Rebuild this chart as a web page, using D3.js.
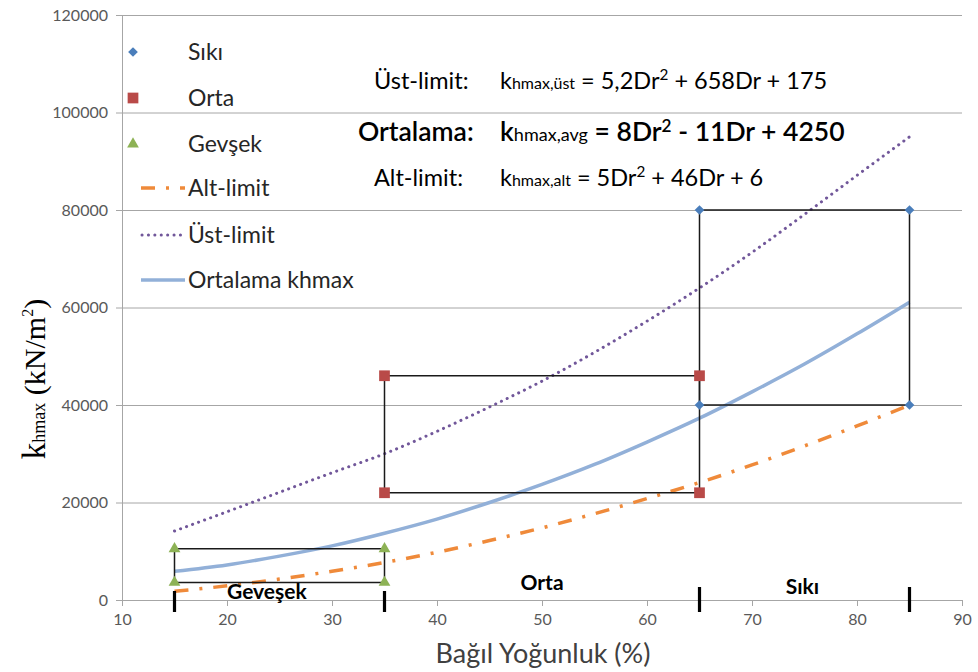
<!DOCTYPE html>
<html>
<head>
<meta charset="utf-8">
<script src="https://cdn.jsdelivr.net/npm/d3@7"></script>
<style>
  html, body { margin: 0; padding: 0; background: #fff; }
  svg { display: block; font-family: Lato, "Open Sans", sans-serif; }
</style>
</head>
<body>
<svg id="chart" width="978" height="672"></svg>
<script>
// ---------- data ----------
const xTicks = [10, 20, 30, 40, 50, 60, 70, 80, 90];
const yTicks = [0, 20000, 40000, 60000, 80000, 100000, 120000];

// marker series (corner points of each density box)
const sikiX = [65, 85, 85, 65];
const sikiY = [80000, 80000, 40000, 40000];
const ortaX = [35, 65, 65, 35];
const ortaY = [46000, 46000, 22000, 22000];
const gevsekX = [15, 35, 35, 15];
const gevsekY = [10500, 10500, 3600, 3600];

// curves
const curveDr = [15, 20, 25, 30, 35, 40, 45, 50, 55, 60, 65, 70, 75, 80, 85];
const ustLimit = [14150, 18100, 22100, 26100, 30000, 34600, 39600, 44900, 50800, 57200, 64000, 71300, 79100, 87100, 95000];
const altLimit = [1800, 2900, 4300, 5900, 7700, 9800, 12200, 14800, 17700, 20800, 24100, 27700, 31600, 35700, 40000];
const ortalama = [5900, 7200, 9000, 11100, 13700, 16600, 20000, 23700, 27800, 32400, 37300, 42700, 48400, 54600, 61100];

// class boundaries and labels
const classBounds = [15, 35, 65, 85];
const classLabels = ["Geveşek", "Orta", "Sıkı"];
const classLabelX = [23.8, 50, 74.8];
const classLabelDy = [-1, -10, -6];

const legendLabels = ["Sıkı", "Orta", "Gevşek", "Alt-limit", "Üst-limit", "Ortalama khmax"];

// ---------- layout ----------
const svg = d3.select("#chart");
const x = d3.scaleLinear().domain([10, 90]).range([122, 962]);
const y = d3.scaleLinear().domain([0, 120000]).range([600, 15]);

const C = {
  siki: "#4a7ebb", orta: "#b94a48", gevsek: "#8db255",
  alt: "#ef8a3a", ust: "#71579a", avg: "#92b0d8",
  grid: "#a6a6a6", tick: "#595959"
};

// gridlines
svg.append("g")
  .attr("transform", "translate(122,0)")
  .call(d3.axisLeft(y).tickValues(yTicks).tickSize(-840).tickFormat(""))
  .call(g => g.select(".domain").remove())
  .call(g => g.selectAll("line").attr("stroke", C.grid).attr("stroke-width", 1));

// y axis
svg.append("g")
  .attr("transform", "translate(122,0)")
  .call(d3.axisLeft(y).tickValues(yTicks).tickSize(6).tickPadding(8).tickFormat(d3.format("d")))
  .call(g => g.select(".domain").attr("stroke", C.grid))
  .call(g => g.selectAll("line").attr("stroke", C.grid))
  .call(g => g.selectAll("text").attr("fill", C.tick).style("font-size", "16px").style("font-family", "Lato, sans-serif"));

// x axis
svg.append("g")
  .attr("transform", "translate(0,600)")
  .call(d3.axisBottom(x).tickValues(xTicks).tickSize(6).tickPadding(8))
  .call(g => g.select(".domain").attr("stroke", C.grid))
  .call(g => g.selectAll("line").attr("stroke", C.grid))
  .call(g => g.selectAll("text").attr("fill", C.tick).style("font-size", "16px").style("font-family", "Lato, sans-serif"));

// axis titles
svg.append("text")
  .attr("x", 543).attr("y", 663)
  .attr("text-anchor", "middle")
  .attr("fill", "#404040")
  .style("font-size", "27px")
  .text("Bağıl Yoğunluk (%)");

const yt = svg.append("text")
  .attr("transform", "translate(45,379) rotate(-90)")
  .attr("text-anchor", "middle")
  .attr("fill", "#000")
  .style("font-family", "'Liberation Serif', 'DejaVu Serif', serif");
yt.append("tspan").style("font-size", "33px").text("k");
yt.append("tspan").style("font-size", "18px").text("hmax");
yt.append("tspan").style("font-size", "30px").text(" (kN/m");
yt.append("tspan").style("font-size", "16px").attr("dy", -12).text("2");
yt.append("tspan").style("font-size", "30px").attr("dy", 12).text(")");

// curves
const line = d3.line().x(d => x(d[0])).y(d => y(d[1])).curve(d3.curveMonotoneX);
const zip = (xs, ys) => xs.map((v, i) => [v, ys[i]]);

svg.append("path").datum(zip(curveDr, ustLimit)).attr("d", line)
  .attr("fill", "none").attr("stroke", C.ust).attr("stroke-width", 3)
  .attr("stroke-linecap", "round").attr("stroke-dasharray", "0.1 6.3");
svg.append("path").datum(zip(curveDr, altLimit)).attr("d", line)
  .attr("fill", "none").attr("stroke", C.alt).attr("stroke-width", 3.5)
  .attr("stroke-dasharray", "14 11 3 11");
svg.append("path").datum(zip(curveDr, ortalama)).attr("d", line)
  .attr("fill", "none").attr("stroke", C.avg).attr("stroke-width", 3.5);

// boxes
const boxLine = d3.line().x(d => x(d[0])).y(d => y(d[1]));
[[sikiX, sikiY], [ortaX, ortaY], [gevsekX, gevsekY]].forEach(([xs, ys]) => {
  const pts = zip(xs, ys); pts.push(pts[0]);
  svg.append("path").datum(pts).attr("d", boxLine)
    .attr("fill", "none").attr("stroke", "#1a1a1a").attr("stroke-width", 1.5);
});

// markers
const sym = (type, size) => d3.symbol().type(type).size(size);
const MS = { siki: 60, orta: 115, gevsek: 60 };
function markers(xs, ys, type, size, color) {
  svg.append("g").selectAll("path").data(zip(xs, ys)).join("path")
    .attr("transform", d => `translate(${x(d[0])},${y(d[1])})`)
    .attr("d", sym(type, size)).attr("fill", color);
}
markers(sikiX, sikiY, d3.symbolDiamond2, MS.siki, C.siki);
markers(ortaX, ortaY, d3.symbolSquare, MS.orta, C.orta);
markers(gevsekX, gevsekY, d3.symbolTriangle, MS.gevsek, C.gevsek);

// class boundary ticks
svg.append("g").selectAll("line").data(classBounds).join("line")
  .attr("x1", d => x(d)).attr("x2", d => x(d))
  .attr("y1", (d, i) => i < 2 ? 591 : 587).attr("y2", 612)
  .attr("stroke", "#000").attr("stroke-width", 3.2);

svg.append("g").selectAll("text").data(classLabels).join("text")
  .attr("x", (d, i) => x(classLabelX[i]))
  .attr("y", (d, i) => 600 + classLabelDy[i])
  .attr("text-anchor", "middle")
  .attr("fill", "#000")
  .style("font-size", "21px").style("font-weight", "700")
  .text(d => d);

// legend
const legY = [52, 98, 144, 188, 235, 280];
const leg = svg.append("g");
legendLabels.forEach((lab, i) => {
  const cy = legY[i];
  if (i === 0) leg.append("path").attr("transform", `translate(133,${cy})`).attr("d", sym(d3.symbolDiamond2, MS.siki)).attr("fill", C.siki);
  if (i === 1) leg.append("path").attr("transform", `translate(133,${cy})`).attr("d", sym(d3.symbolSquare, MS.orta)).attr("fill", C.orta);
  if (i === 2) leg.append("path").attr("transform", `translate(133,${cy})`).attr("d", sym(d3.symbolTriangle, MS.gevsek)).attr("fill", C.gevsek);
  if (i === 3) leg.append("line").attr("x1", 141).attr("x2", 185).attr("y1", cy).attr("y2", cy)
      .attr("stroke", C.alt).attr("stroke-width", 3.5).attr("stroke-dasharray", "14 11 3 11");
  if (i === 4) leg.append("line").attr("x1", 142).attr("x2", 185).attr("y1", cy).attr("y2", cy)
      .attr("stroke", C.ust).attr("stroke-width", 3).attr("stroke-linecap", "round").attr("stroke-dasharray", "0.1 6.3");
  if (i === 5) leg.append("line").attr("x1", 141).attr("x2", 185).attr("y1", cy).attr("y2", cy)
      .attr("stroke", C.avg).attr("stroke-width", 3.5);
  leg.append("text").attr("x", 188).attr("y", cy + 8)
    .attr("fill", "#262626").style("font-size", "23px").text(lab);
});

// equations
function eq(labelText, lx, cy, sub, rest, sup, tail, size, weight) {
  svg.append("text").attr("x", lx).attr("y", cy + 8).attr("fill", "#000")
    .style("font-size", size + "px").style("font-weight", weight).text(labelText);
  const t = svg.append("text").attr("x", 500).attr("y", cy + 8).attr("fill", "#000")
    .style("font-size", size + "px").style("font-weight", weight);
  t.append("tspan").text("k");
  t.append("tspan").style("font-size", (size * 0.68) + "px").style("font-weight", 400).text(sub);
  t.append("tspan").text(rest);
  t.append("tspan").style("font-size", (size * 0.65) + "px").attr("dy", -9).text(sup);
  t.append("tspan").attr("dy", 9).text(tail);
}
eq("Üst-limit:", 374, 81, "hmax,üst", " = 5,2Dr", "2", " + 658Dr + 175", 23.5, 400);
eq("Ortalama:", 358, 133, "hmax,avg", " = 8Dr", "2", " - 11Dr + 4250", 26.5, 600);
eq("Alt-limit:", 374, 178, "hmax,alt", " = 5Dr", "2", " + 46Dr + 6", 23.5, 400);
</script>
</body>
</html>
